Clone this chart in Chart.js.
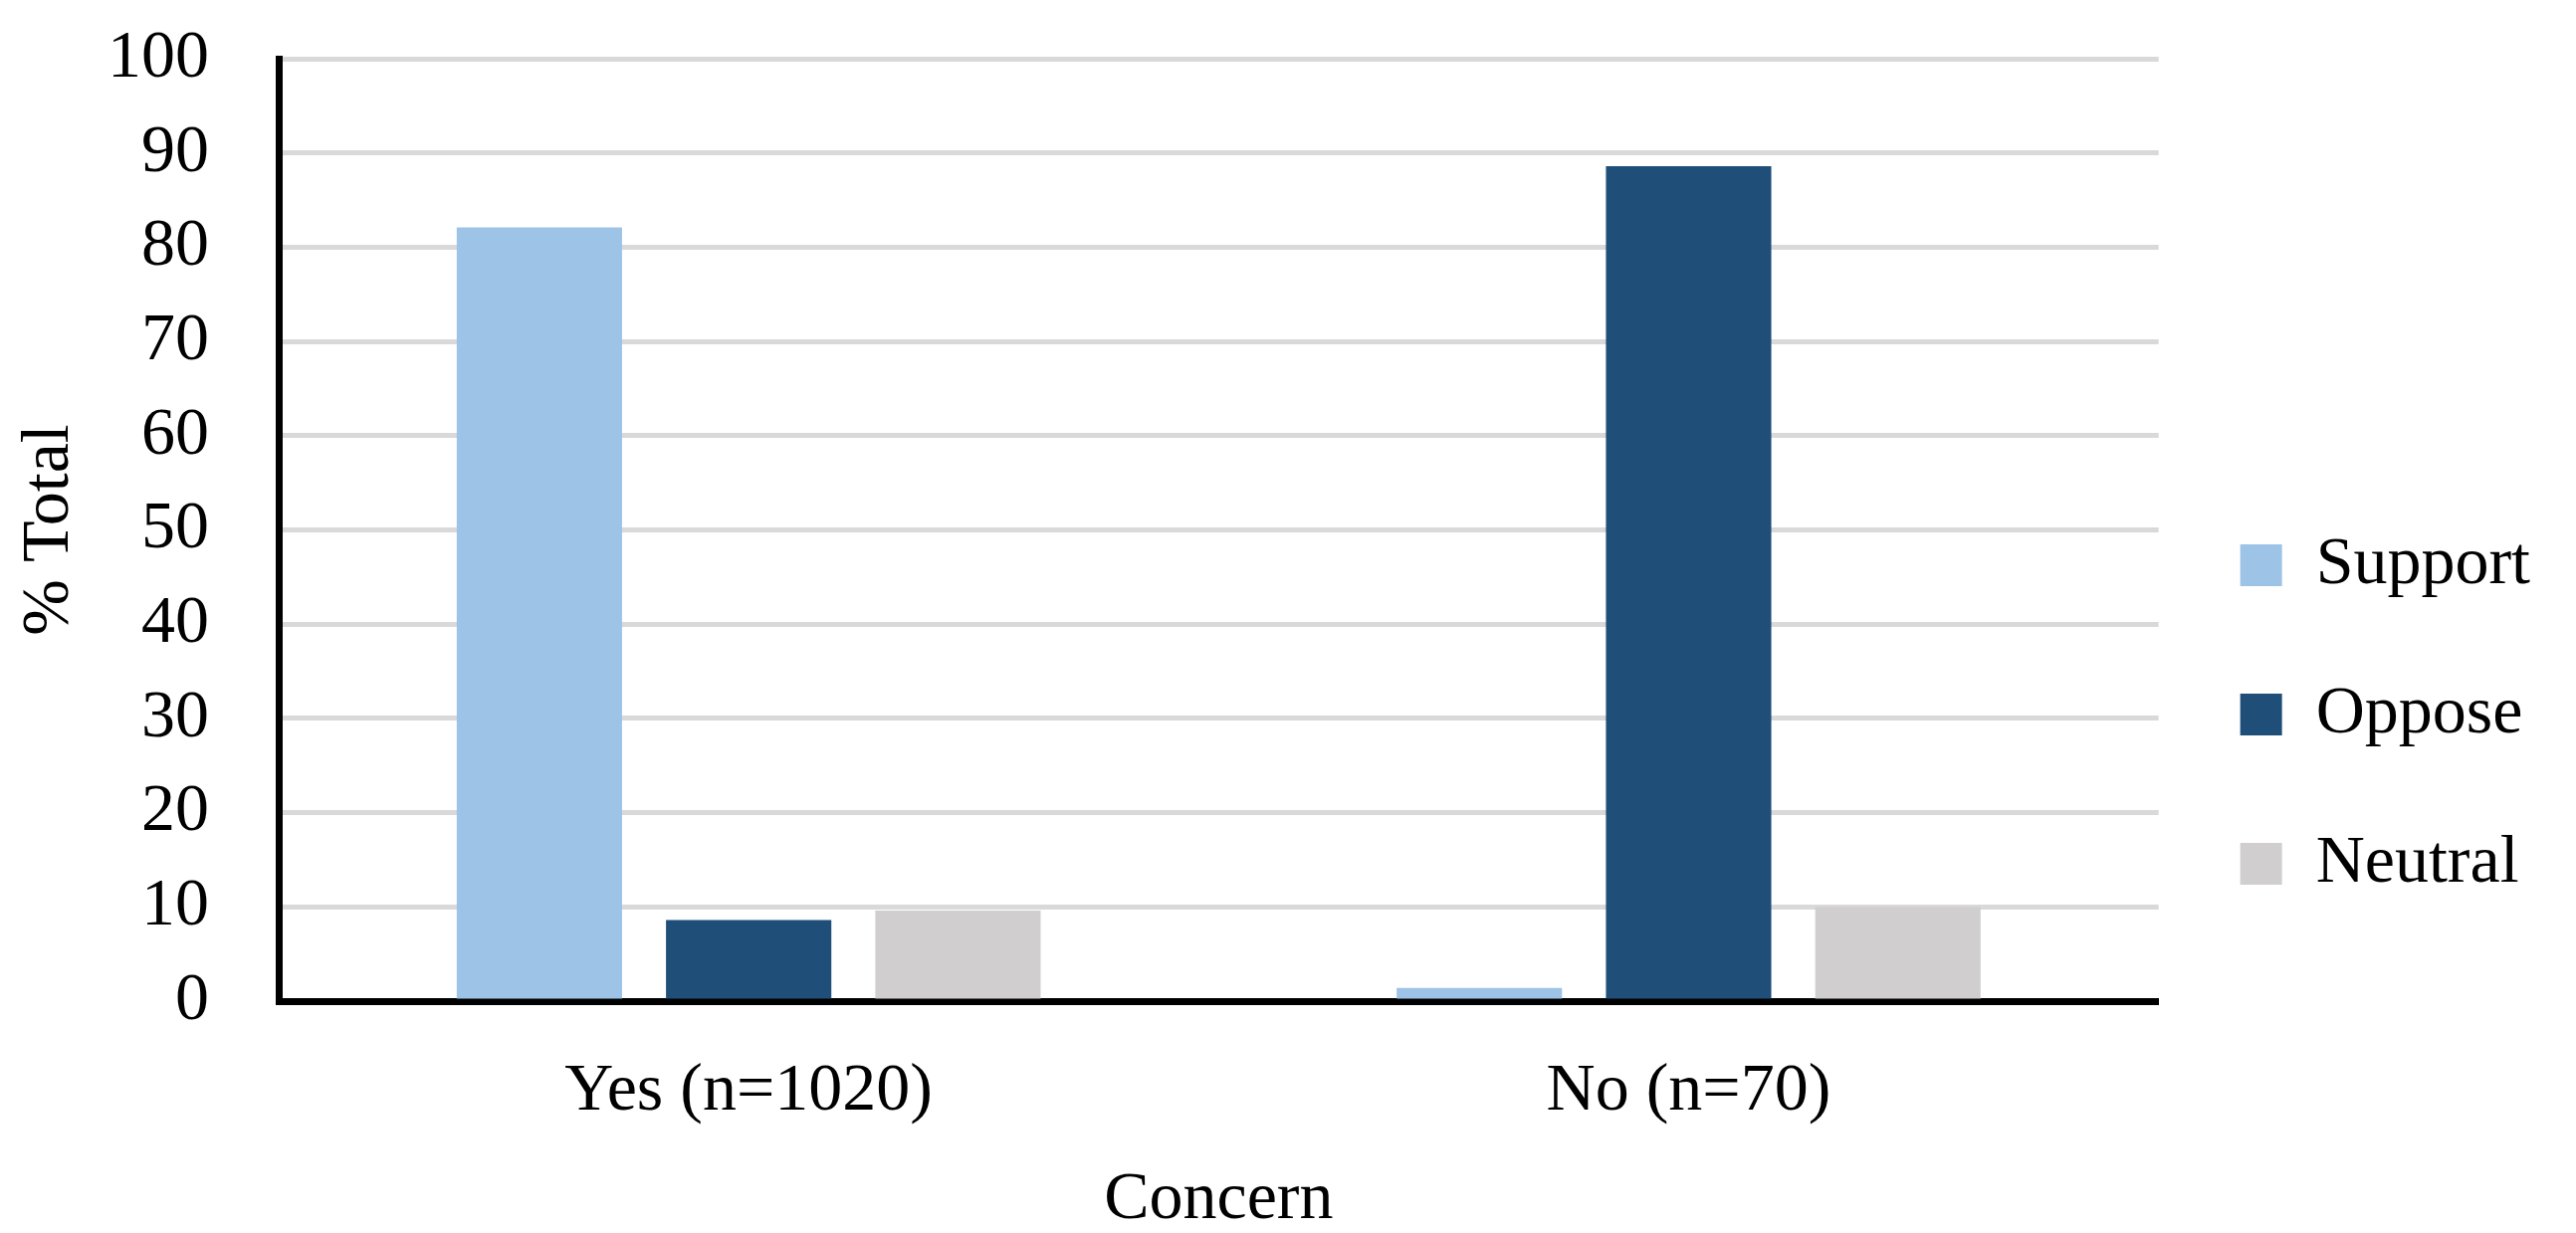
<!DOCTYPE html>
<html>
<head>
<meta charset="utf-8">
<script src="https://cdn.jsdelivr.net/npm/chart.js@4.4.1/dist/chart.umd.min.js"></script>
<style>
  html, body { margin: 0; padding: 0; background: #fff; }
  #wrap { width: 2588px; height: 1239px; }
</style>
</head>
<body>
<div id="wrap"><canvas id="chart" width="2588" height="1239"></canvas></div>
<script>
// categories and series
const categories = ['Yes (n=1020)', 'No (n=70)']
const support = [82.1, 1.4]
const oppose = [8.6, 88.6]
const neutral = [9.6, 10.0]
const yTicks = [0, 100, 10] // min, max, step

const serif = "'Liberation Serif', 'Times New Roman', serif"
const big = { family: serif, size: 68 }

let data = {
    labels: categories,
    datasets: [
        { label: 'Support', data: support, backgroundColor: '#9dc3e6' },
        { label: 'Oppose', data: oppose, backgroundColor: '#1f4e79' },
        { label: 'Neutral', data: neutral, backgroundColor: '#d0cece' }
    ]
}

let config = {
    type: 'bar',
    data: data,
    options: {
        responsive: false,
        animation: false,
        categoryPercentage: 0.668,
        barPercentage: 0.79,
        layout: { padding: { top: 19, right: 36, bottom: 0, left: 0 } },
        plugins: {
            tooltip: { enabled: false },
            legend: {
                position: 'right',
                align: 'center',
                // empty title just pushes the entries down like the original
                title: { display: true, text: '', font: { size: 10 }, padding: { top: 166, bottom: 0 } },
                labels: {
                    boxWidth: 42,
                    boxHeight: 42,
                    padding: 82,
                    color: '#000',
                    font: big
                }
            }
        },
        scales: {
            x: {
                grid: { display: false, drawTicks: false },
                border: { display: true, color: '#000', width: 7 },
                ticks: { color: '#000', font: big, padding: 50 },
                title: { display: true, text: 'Concern', color: '#000', font: big, padding: { top: 0, bottom: -8 } },
                // tick padding gets counted twice, so fix the height by hand
                afterFit: s => { s.height = 233 }
            },
            y: {
                min: yTicks[0],
                max: yTicks[1],
                grid: { color: '#d9d9d9', lineWidth: 5, drawTicks: false },
                border: { display: true, color: '#000', width: 7 },
                ticks: { stepSize: yTicks[2], color: '#000', font: big, padding: 70 },
                title: { display: true, text: '% Total', color: '#000', font: big, padding: { top: 9, bottom: 0 } },
                afterFit: s => {
                    s.width = 280
                    s.paddingTop = 59
                    s.paddingBottom = 0
                }
            }
        }
    }
}

new Chart(document.getElementById('chart'), config)
</script>
</body>
</html>
